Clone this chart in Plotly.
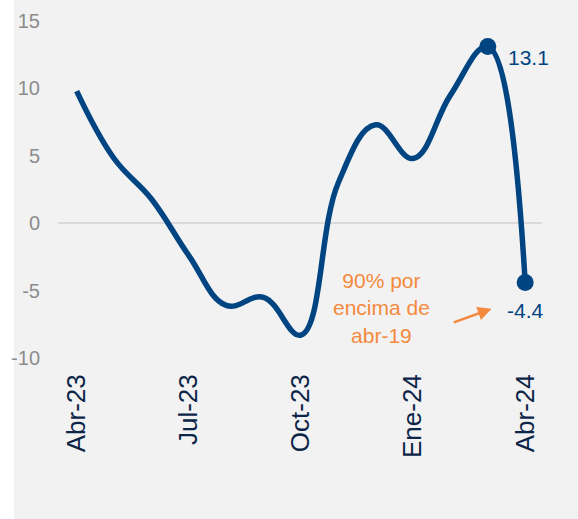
import plotly.graph_objects as go

months = ["Abr-23", "May-23", "Jun-23", "Jul-23", "Ago-23", "Sep-23", "Oct-23",
          "Nov-23", "Dic-23", "Ene-24", "Feb-24", "Mar-24", "Abr-24"]
values = [9.8, 4.8, 1.8, -2.4, -6.1, -5.5, -8.3, 3.0, 7.3, 4.8, 9.5, 13.1, -4.4]
tick_labels = ["Abr-23", "Jul-23", "Oct-23", "Ene-24", "Abr-24"]
tick_idx = [0, 3, 6, 9, 12]
highlight_idx = [11, 12]
y_ticks = [-10, -5, 0, 5, 10, 15]
y_tick_text = ["-10", "-5", "0", "5", "10", "15"]

BLUE = "#004481"
ORANGE = "#F5893D"
BG = "#F2F2F2"
FONT = "Arial, Liberation Sans, sans-serif"

x = list(range(len(months)))

fig = go.Figure()
fig.add_trace(go.Scatter(
    x=x, y=values, mode="lines",
    line=dict(color=BLUE, width=5.5, shape="spline", smoothing=1.15),
    hoverinfo="skip", showlegend=False,
))
fig.add_trace(go.Scatter(
    x=[x[i] for i in highlight_idx], y=[values[i] for i in highlight_idx],
    mode="markers", marker=dict(color=BLUE, size=17),
    showlegend=False,
))

# data labels
fig.add_annotation(x=x[11], y=values[11], text=f"{values[11]:.1f}", showarrow=False,
                   xshift=41, yshift=-11, font=dict(color=BLUE, size=21, family=FONT))
fig.add_annotation(x=x[12], y=values[12], text=f"{values[12]:.1f}", showarrow=False,
                   xshift=0, yshift=-28, font=dict(color=BLUE, size=21, family=FONT))

# orange note
fig.add_annotation(x=8.15, y=-6.3, text="90% por<br>encima de<br>abr-19", showarrow=False,
                   font=dict(color=ORANGE, size=21, family=FONT), align="center")
fig.add_annotation(x=11.1, y=-6.35, ax=10.05, ay=-7.4, axref="x", ayref="y",
                   text="", showarrow=True, arrowhead=2, arrowsize=1.1, arrowwidth=2.5,
                   arrowcolor=ORANGE)

# white strip on the left
fig.add_shape(type="rect", xref="paper", yref="paper", x0=-0.13, x1=-0.0909,
              y0=-0.6, y1=1.1, fillcolor="white", line=dict(width=0), layer="below")

fig.update_layout(
    width=578, height=519,
    margin=dict(l=58, r=36, t=21, b=161, autoexpand=False),
    paper_bgcolor=BG, plot_bgcolor=BG,
    font=dict(family=FONT),
    showlegend=False,
)
fig.update_xaxes(
    range=[-0.5, 12.45], tickmode="array", tickvals=tick_idx, ticktext=tick_labels,
    tickangle=-90, tickfont=dict(color="#0B2447", size=26, family=FONT),
    showgrid=False, zeroline=False, showline=False, ticks="", ticklabelstandoff=10,
    automargin=False,
)
fig.update_yaxes(
    range=[-10, 15], tickmode="array", tickvals=y_ticks, ticktext=y_tick_text,
    tickfont=dict(color="#8C8C8C", size=20, family=FONT),
    showgrid=False, zeroline=True, zerolinecolor="#D9D9D9", zerolinewidth=2,
    showline=False, ticks="", ticklabelstandoff=17, automargin=False,
)

fig.write_html("out.html", config={"displayModeBar": False},
               post_script="document.body.style.margin='0';")
